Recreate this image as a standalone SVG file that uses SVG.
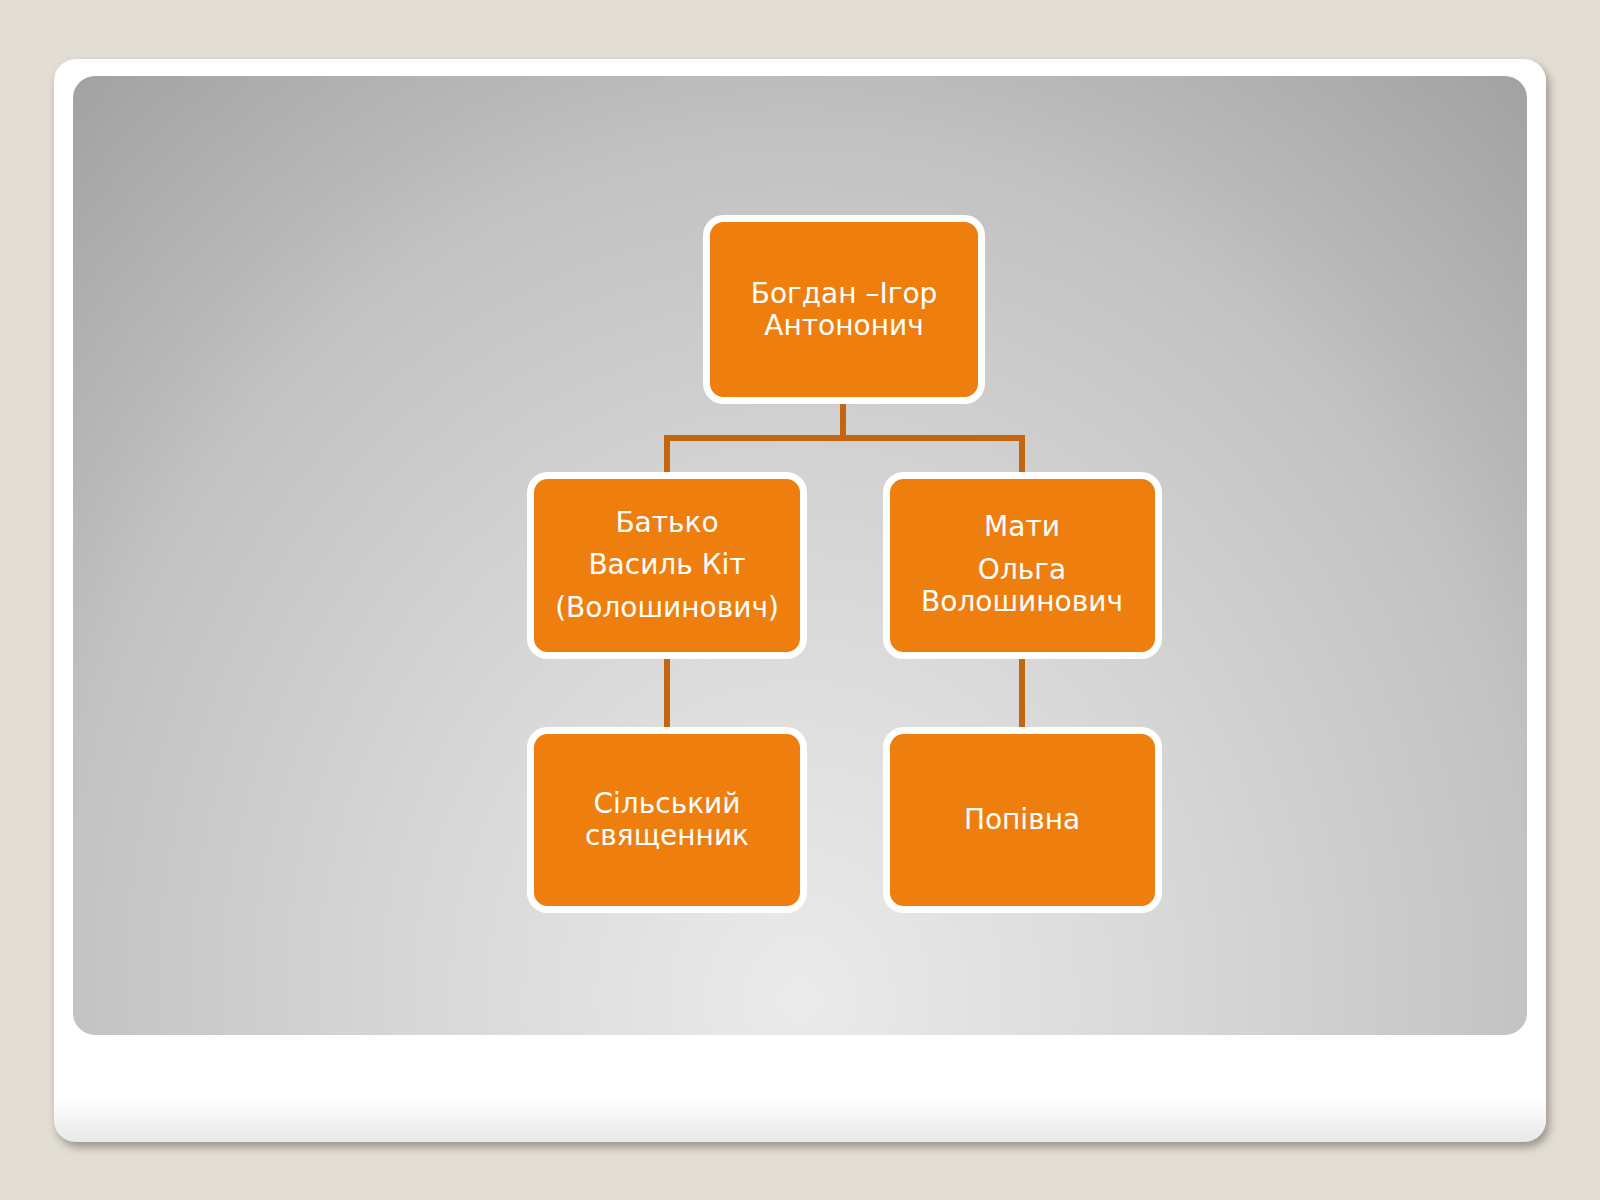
<svg xmlns="http://www.w3.org/2000/svg" width="1600" height="1200" viewBox="0 0 1600 1200">
<defs>
<radialGradient id="bg" cx="800" cy="1000" r="1100" gradientUnits="userSpaceOnUse" gradientTransform="translate(800 1000) scale(1 1.15) translate(-800 -1000)">
<stop offset="0" stop-color="#EBEBEB"/>
<stop offset="0.355" stop-color="#D7D7D7"/>
<stop offset="0.68" stop-color="#C2C2C2"/>
<stop offset="0.76" stop-color="#B8B8B8"/>
<stop offset="1" stop-color="#A0A0A0"/>
</radialGradient>
<linearGradient id="card" x1="0" y1="0" x2="0" y2="1">
<stop offset="0" stop-color="#FFFFFF"/>
<stop offset="0.96" stop-color="#FFFFFF"/>
<stop offset="1" stop-color="#E8E8E8"/>
</linearGradient>
<filter id="sh" x="-5%" y="-5%" width="110%" height="110%">
<feGaussianBlur in="SourceAlpha" stdDeviation="5"/>
<feOffset dx="3" dy="5"/>
<feComponentTransfer><feFuncA type="linear" slope="0.35"/></feComponentTransfer>
<feMerge><feMergeNode/><feMergeNode in="SourceGraphic"/></feMerge>
</filter>
</defs>
<style>
.node{fill:#EE7F0E;stroke:#FFFFFF;stroke-width:7}
.lbl{font-family:"DejaVu Sans","Verdana",sans-serif;font-size:28px;fill:#FFFFFF;text-anchor:middle}
.conn{stroke:#C4650F;stroke-width:6;fill:none}
</style>
<rect width="1600" height="1200" fill="#E3DED3"/>
<rect x="54" y="59" width="1492" height="1083" rx="22" fill="url(#card)" filter="url(#sh)"/>
<rect x="73" y="76" width="1454" height="959" rx="22" fill="url(#bg)"/>
<g id="connectors">
<path class="conn" d="M843 404 V438 M667 438 H1022 M667 435 V472 M1022 435 V472"/>
<path class="conn" d="M667 659 V727"/>
<path class="conn" d="M1022 659 V727"/>
</g>
<g id="node-top">
<rect class="node" x="706.5" y="218.5" width="275" height="182" rx="17"/>
<text class="lbl" x="844" y="303">Богдан –Ігор</text>
<text class="lbl" x="844" y="335">Антононич</text>
</g>
<g id="node-father">
<rect class="node" x="530.5" y="475.5" width="273" height="180" rx="17"/>
<text class="lbl" x="667" y="532">Батько</text>
<text class="lbl" x="667" y="574">Василь Кіт</text>
<text class="lbl" x="667" y="617">(Волошинович)</text>
</g>
<g id="node-mother">
<rect class="node" x="886.5" y="475.5" width="272" height="180" rx="17"/>
<text class="lbl" x="1022" y="536">Мати</text>
<text class="lbl" x="1022" y="579">Ольга</text>
<text class="lbl" x="1022" y="611">Волошинович</text>
</g>
<g id="node-priest">
<rect class="node" x="530.5" y="730.5" width="273" height="179" rx="17"/>
<text class="lbl" x="667" y="813">Сільський</text>
<text class="lbl" x="667" y="845">священник</text>
</g>
<g id="node-popivna">
<rect class="node" x="886.5" y="730.5" width="272" height="179" rx="17"/>
<text class="lbl" x="1022" y="829">Попівна</text>
</g>
</svg>
